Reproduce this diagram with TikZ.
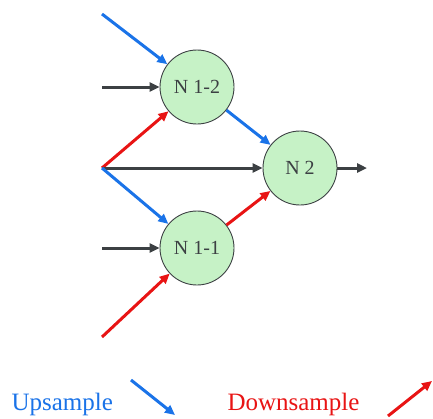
\documentclass[tikz,border=0pt]{standalone}
\usepackage{fontspec}
\setmainfont{Liberation Serif}
\usetikzlibrary{arrows.meta}
\definecolor{upblue}{RGB}{26,115,232}
\definecolor{downred}{RGB}{232,20,20}
\definecolor{darkline}{RGB}{60,64,67}
\definecolor{nodegreen}{RGB}{198,242,198}
\pgfkeys{tikz/unit/.style={circle, draw=darkline, line width=0.9pt,
                               fill=nodegreen, text=darkline,
                               minimum size=74pt, inner sep=0pt,
                               font=\fontsize{20}{22}\selectfont}}
\pgfkeys{tikz/flow/.style={line width=3pt,
                               -{Triangle[length=10pt,width=9pt]}}}

\begin{document}
\begin{tikzpicture}[x=1pt, y=-1pt]
                \useasboundingbox (0,0) rectangle (433,418);

                \node[unit] (n12) at (197, 87)  {N 1-2};
                \node[unit] (n11) at (197, 248) {N 1-1};
                \node[unit] (n2)  at (300, 168) {N 2};

                \coordinate (src) at (102, 168);
                \coordinate (in1) at (102, 14);
                \coordinate (in2) at (102, 87);
                \coordinate (in3) at (102, 248);
                \coordinate (in4) at (102, 337);
                \coordinate (out) at (367, 168);

                \draw[flow, upblue] (in1) -- (n12);
                \draw[flow, darkline] (in2) -- (n12);
                \draw[flow, downred] (src) -- (n12);
                \draw[flow, darkline] (src) -- (n2);
                \draw[flow, upblue] (src) -- (n11);
                \draw[flow, darkline] (in3) -- (n11);
                \draw[flow, downred] (in4) -- (n11);

                \draw[flow, upblue] (n12) -- (n2);
                \draw[flow, downred] (n11) -- (n2);
                \draw[flow, darkline] (n2) -- (out);

                % legend
                \node[text=upblue, font=\fontsize{25}{28}\selectfont, anchor=base west] (up) at (8, 410) {Upsample};
                \node[text=downred, font=\fontsize{25}{28}\selectfont, anchor=base west] (down) at (224, 410) {Downsample};
                \coordinate (ua) at (131, 380);
                \coordinate (ub) at (175, 415);
                \coordinate (da) at (388, 416);
                \coordinate (db) at (432, 381);
                \draw[flow, upblue] (ua) -- (ub);
                \draw[flow, downred] (da) -- (db);
            \end{tikzpicture}
\end{document}
